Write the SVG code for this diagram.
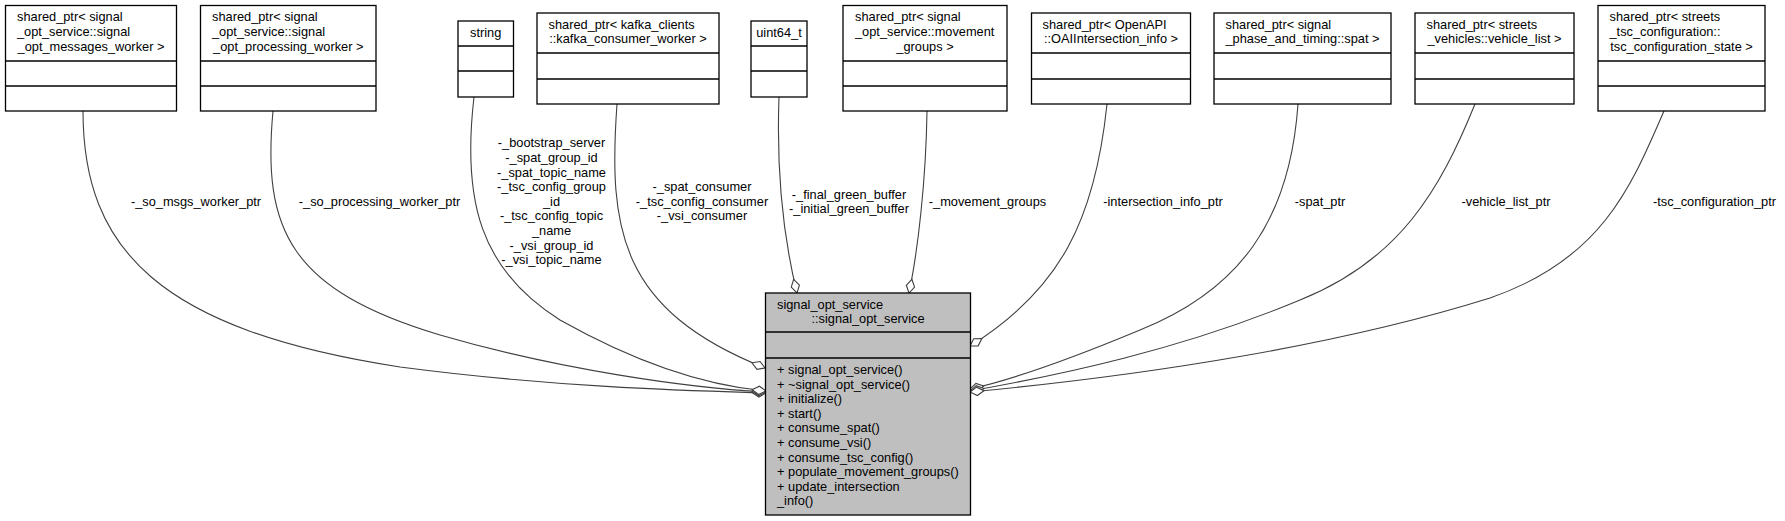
<svg xmlns="http://www.w3.org/2000/svg" width="1785" height="521" viewBox="0 0 1785 521">
<style>
text{font-family:"Liberation Sans",Arial,sans-serif;font-size:12.8px;fill:#000}
.m{text-anchor:middle}
.box{fill:#fff;stroke:#000;stroke-width:1.3}
.main{fill:#bfbfbf;stroke:#000;stroke-width:1.3}
.div{stroke:#000;stroke-width:1.3}
.e{fill:none;stroke:#404040;stroke-width:1.1;marker-end:url(#od)}
</style>
<defs>
<marker id="od" markerUnits="userSpaceOnUse" markerWidth="17" markerHeight="12" viewBox="-1 -6 17 12" refX="14" refY="0" orient="auto">
<path d="M0,0 L7,-4.2 L14,0 L7,4.2 Z" fill="#fff" stroke="#404040" stroke-width="1.1"/>
</marker>
</defs>
<g id="connectors">
<path class="e" d="M83,111 C83,250 160,330 400,367 C560,388 700,391 766,393"/>
<path class="e" d="M273,111 C262,230 290,290 440,335 C560,370 690,388 766,392"/>
<path class="e" d="M474,97 C462,200 480,270 560,320 C640,365 710,386 766,391"/>
<path class="e" d="M617,104 C608,230 620,310 765,368"/>
<path class="e" d="M779,97 C776,180 784,240 797,293"/>
<path class="e" d="M927,111 C926,180 918,250 909,293"/>
<path class="e" d="M1107,104 C1095,220 1060,290 970,346"/>
<path class="e" d="M1298,104 C1290,220 1240,290 1140,330 C1080,355 1020,378 970,389"/>
<path class="e" d="M1475,104 C1440,190 1400,260 1300,300 C1180,350 1060,375 970,391"/>
<path class="e" d="M1664,111 C1630,190 1600,260 1490,298 C1340,345 1150,375 970,392"/>
<text class="m" x="196" y="205.5">-_so_msgs_worker_ptr</text>
<text class="m" x="379.5" y="205.5">-_so_processing_worker_ptr</text>
<text class="m" x="551.5" y="147.3">-_bootstrap_server</text>
<text class="m" x="551.5" y="161.9">-_spat_group_id</text>
<text class="m" x="551.5" y="176.5">-_spat_topic_name</text>
<text class="m" x="551.5" y="191.1">-_tsc_config_group</text>
<text class="m" x="551.5" y="205.7">_id</text>
<text class="m" x="551.5" y="220.3">-_tsc_config_topic</text>
<text class="m" x="551.5" y="234.9">_name</text>
<text class="m" x="551.5" y="249.5">-_vsi_group_id</text>
<text class="m" x="551.5" y="264.1">-_vsi_topic_name</text>
<text class="m" x="702" y="191">-_spat_consumer</text>
<text class="m" x="702" y="205.6">-_tsc_config_consumer</text>
<text class="m" x="702" y="220.2">-_vsi_consumer</text>
<text class="m" x="849" y="198.5">-_final_green_buffer</text>
<text class="m" x="849" y="213.1">-_initial_green_buffer</text>
<text class="m" x="987.5" y="205.5">-_movement_groups</text>
<text class="m" x="1163" y="205.5">-intersection_info_ptr</text>
<text class="m" x="1320" y="205.5">-spat_ptr</text>
<text class="m" x="1506" y="205.5">-vehicle_list_ptr</text>
<text class="m" x="1714.5" y="205.5">-tsc_configuration_ptr</text>
</g>
<g id="main">
<rect class="main" x="765.5" y="293" width="205" height="222"/>
<line class="div" x1="765.5" y1="332" x2="970.5" y2="332"/>
<line class="div" x1="765.5" y1="358" x2="970.5" y2="358"/>
<text x="777" y="308.5">signal_opt_service</text>
<text class="m" x="868" y="323">::signal_opt_service</text>
<text x="777" y="374">+ signal_opt_service()</text>
<text x="777" y="388.6">+ ~signal_opt_service()</text>
<text x="777" y="403.2">+ initialize()</text>
<text x="777" y="417.8">+ start()</text>
<text x="777" y="432.4">+ consume_spat()</text>
<text x="777" y="447">+ consume_vsi()</text>
<text x="777" y="461.6">+ consume_tsc_config()</text>
<text x="777" y="476.2">+ populate_movement_groups()</text>
<text x="777" y="490.8">+ update_intersection</text>
<text x="777" y="505.4">_info()</text>
</g>
<g id="n1">
<rect class="box" x="5.5" y="5.5" width="171" height="105.5"/>
<line class="div" x1="5.5" y1="61" x2="176.5" y2="61"/>
<line class="div" x1="5.5" y1="86" x2="176.5" y2="86"/>
<text x="17" y="21.3">shared_ptr&lt; signal</text>
<text x="17" y="35.9">_opt_service::signal</text>
<text class="m" x="91" y="50.5">_opt_messages_worker &gt;</text>
</g>
<g id="n2">
<rect class="box" x="200.5" y="5.5" width="175.5" height="105.5"/>
<line class="div" x1="200.5" y1="61" x2="376" y2="61"/>
<line class="div" x1="200.5" y1="86" x2="376" y2="86"/>
<text x="212" y="21.3">shared_ptr&lt; signal</text>
<text x="212" y="35.9">_opt_service::signal</text>
<text class="m" x="288.3" y="50.5">_opt_processing_worker &gt;</text>
</g>
<g id="n3">
<rect class="box" x="458" y="21" width="55.5" height="76"/>
<line class="div" x1="458" y1="46" x2="513.5" y2="46"/>
<line class="div" x1="458" y1="71" x2="513.5" y2="71"/>
<text class="m" x="485.7" y="37">string</text>
</g>
<g id="n4">
<rect class="box" x="537" y="13" width="182" height="91"/>
<line class="div" x1="537" y1="53" x2="719" y2="53"/>
<line class="div" x1="537" y1="79" x2="719" y2="79"/>
<text x="548.5" y="28.8">shared_ptr&lt; kafka_clients</text>
<text class="m" x="628" y="43.4">::kafka_consumer_worker &gt;</text>
</g>
<g id="n5">
<rect class="box" x="751" y="21" width="56" height="76"/>
<line class="div" x1="751" y1="46" x2="807" y2="46"/>
<line class="div" x1="751" y1="71" x2="807" y2="71"/>
<text class="m" x="779" y="37">uint64_t</text>
</g>
<g id="n6">
<rect class="box" x="843" y="5.5" width="164" height="105.5"/>
<line class="div" x1="843" y1="61" x2="1007" y2="61"/>
<line class="div" x1="843" y1="86" x2="1007" y2="86"/>
<text x="855" y="21.3">shared_ptr&lt; signal</text>
<text x="855" y="35.9">_opt_service::movement</text>
<text class="m" x="925" y="50.5">_groups &gt;</text>
</g>
<g id="n7">
<rect class="box" x="1031.5" y="13" width="159" height="91"/>
<line class="div" x1="1031.5" y1="53" x2="1190.5" y2="53"/>
<line class="div" x1="1031.5" y1="79" x2="1190.5" y2="79"/>
<text x="1042.5" y="28.8">shared_ptr&lt; OpenAPI</text>
<text class="m" x="1111" y="43.4">::OAIIntersection_info &gt;</text>
</g>
<g id="n8">
<rect class="box" x="1214" y="13" width="177" height="91"/>
<line class="div" x1="1214" y1="53" x2="1391" y2="53"/>
<line class="div" x1="1214" y1="79" x2="1391" y2="79"/>
<text x="1225.5" y="28.8">shared_ptr&lt; signal</text>
<text class="m" x="1302.5" y="43.4">_phase_and_timing::spat &gt;</text>
</g>
<g id="n9">
<rect class="box" x="1415" y="13" width="159" height="91"/>
<line class="div" x1="1415" y1="53" x2="1574" y2="53"/>
<line class="div" x1="1415" y1="79" x2="1574" y2="79"/>
<text x="1426.5" y="28.8">shared_ptr&lt; streets</text>
<text class="m" x="1494.5" y="43.4">_vehicles::vehicle_list &gt;</text>
</g>
<g id="n10">
<rect class="box" x="1598" y="5.5" width="167" height="105.5"/>
<line class="div" x1="1598" y1="61" x2="1765" y2="61"/>
<line class="div" x1="1598" y1="86" x2="1765" y2="86"/>
<text x="1609.5" y="21.3">shared_ptr&lt; streets</text>
<text x="1609.5" y="35.9">_tsc_configuration::</text>
<text class="m" x="1681.5" y="50.5">tsc_configuration_state &gt;</text>
</g>
</svg>
